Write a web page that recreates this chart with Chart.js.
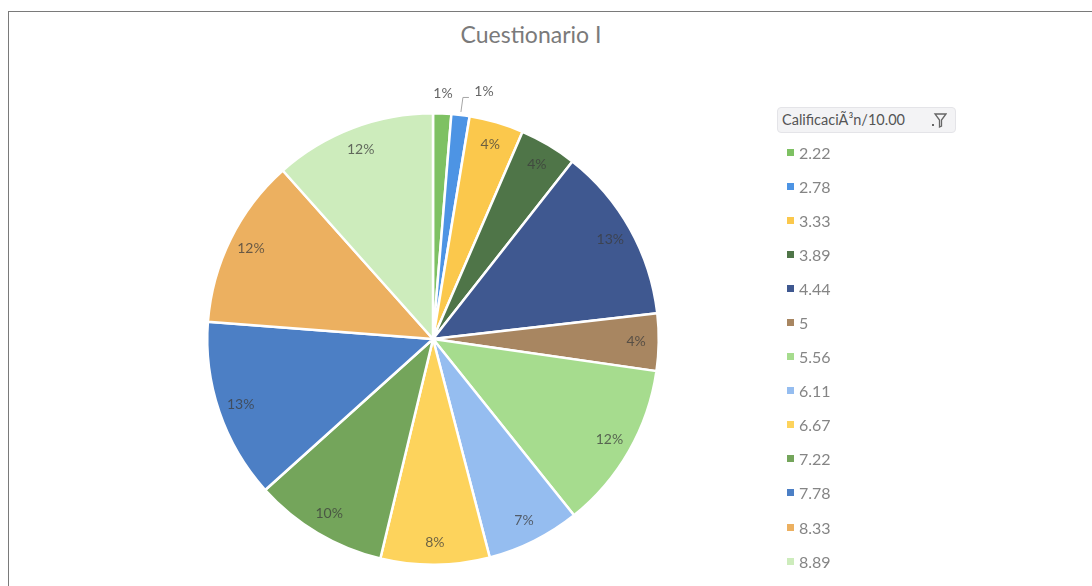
<!DOCTYPE html>
<html lang="es">
<head>
<meta charset="UTF-8">
<title>Cuestionario I</title>
<script src="https://cdn.jsdelivr.net/npm/chart.js"></script>
<style>
  body {
    margin: 0;
    width: 1092px;
    height: 586px;
    background: #fff;
    font-family: 'Lato', 'Open Sans', sans-serif;
    position: relative;
    overflow: hidden;
  }
  .frame {
    position: absolute;
    left: 8px;
    top: 11px;
    width: 1100px;
    height: 600px;
    border-top: 1.5px solid #7a7a7a;
    border-left: 1.5px solid #7a7a7a;
  }
  .title {
    position: absolute;
    left: 0;
    width: 1062px;
    top: 20px;
    text-align: center;
    font-size: 23px;
    color: #7a7a7a;
  }
  #wrap {
    position: absolute;
    left: 0;
    top: 0;
    width: 1092px;
    height: 586px;
  }
  .legend-head {
    position: absolute;
    left: 777px;
    top: 107px;
    width: 179px;
    height: 26px;
    background: #f3f3f5;
    border: 1px solid #e4e4e8;
    border-radius: 4px;
    box-sizing: border-box;
    font-size: 14.5px;
    color: #555;
    line-height: 24px;
    padding-left: 4px;
  }
  .legend-head svg {
    position: absolute;
    right: 8px;
    top: 5px;
  }
  #legend {
    position: absolute;
    left: 787px;
    top: 135px;
    margin: 0;
    padding: 0;
    list-style: none;
  }
  #legend li {
    height: 34.1px;
    display: flex;
    align-items: center;
    font-size: 16px;
    color: #858585;
  }
  #legend span {
    display: inline-block;
    width: 7px;
    height: 7px;
    margin-right: 5px;
  }
</style>
</head>
<body>
<div class="frame"></div>
<div class="title">Cuestionario I</div>
<div id="wrap"><canvas id="pie"></canvas></div>
<div class="legend-head">CalificaciÃ³n/10.00
  <svg width="16" height="16" viewBox="0 0 16 16">
    <rect x="1" y="11" width="2" height="2" fill="#666"/>
    <path d="M4 1 H15 L10.5 7 V13 L8.5 14 V7 Z" fill="none" stroke="#666" stroke-width="1.3"/>
  </svg>
</div>
<ul id="legend"></ul>

<script>
// calificaciones (legend categories) and share of answers
const grades = ['2.22', '2.78', '3.33', '3.89', '4.44', '5', '5.56', '6.11', '6.67', '7.22', '7.78', '8.33', '8.89'];
const shares = [1.3, 1.3, 3.9, 4.1, 12.6, 4.1, 12.0, 6.7, 7.8, 9.6, 12.9, 12.2, 11.6];
const sliceColors = ['#7ec163', '#4d94e4', '#fbc84c', '#4f7548', '#3f5890', '#a88661', '#a6dc8e',
                     '#95bdf0', '#fdd35c', '#74a55b', '#4c7fc5', '#ecb060', '#cdecbc'];

const total = shares.reduce((a, b) => a + b, 0);

// draws the percentage labels (small slices go outside, with a leader if they collide)
const pctLabels = {
  id: 'pctLabels',
  afterDatasetsDraw(chart) {
    const ctx = chart.ctx;
    const arcs = chart.getDatasetMeta(0).data;
    ctx.save();
    ctx.font = '14px Lato, "Open Sans", sans-serif';
    ctx.textAlign = 'center';
    ctx.textBaseline = 'middle';
    let lastOut = null;
    arcs.forEach((arc, i) => {
      const p = arc.getProps(['x', 'y', 'startAngle', 'endAngle', 'outerRadius']);
      const mid = (p.startAngle + p.endAngle) / 2;
      const pct = shares[i] / total * 100;
      const txt = Math.round(pct) + '%';
      if (pct < 2) {
        let lx = p.x + Math.cos(mid) * (p.outerRadius + 20);
        let ly = p.y + Math.sin(mid) * (p.outerRadius + 20);
        if (lastOut && Math.abs(lx - lastOut.x) < 30) {
          const ax = p.x + Math.cos(mid) * (p.outerRadius + 3);
          const ay = p.y + Math.sin(mid) * (p.outerRadius + 3);
          const ex = ax + 2, ey = lastOut.y + 4;
          ctx.strokeStyle = '#a6a6a6';
          ctx.lineWidth = 1;
          ctx.beginPath();
          ctx.moveTo(ax, ay);
          ctx.lineTo(ex, ey);
          ctx.lineTo(ex + 6, ey);
          ctx.stroke();
          lx = ex + 21;
          ly = ey - 6;
        }
        ctx.fillStyle = '#666';
        ctx.fillText(txt, lx, ly);
        lastOut = { x: lx, y: ly };
      } else {
        const r = p.outerRadius * 0.9;
        ctx.fillStyle = 'rgba(60,60,60,0.75)';
        ctx.fillText(txt, p.x + Math.cos(mid) * r, p.y + Math.sin(mid) * r);
      }
    });
    ctx.restore();
  }
};

const chart = new Chart(document.getElementById('pie'), {
  type: 'pie',
  data: {
    labels: grades,
    datasets: [{
      data: shares,
      backgroundColor: sliceColors,
      borderColor: '#ffffff',
      borderWidth: 2.5
    }]
  },
  options: {
    responsive: true,
    maintainAspectRatio: false,
    animation: false,
    layout: {
      padding: { left: 206, top: 112, right: 432, bottom: 20 }
    },
    plugins: {
      legend: { display: false },
      title: { display: false },
      tooltip: { enabled: false }
    }
  },
  plugins: [pctLabels]
});

// legend list built from the chart's own labels
const items = chart.options.plugins.legend.labels.generateLabels(chart);
document.getElementById('legend').innerHTML = items
  .map(it => `<li><span style="background:${it.fillStyle}"></span>${it.text}</li>`)
  .join('');
</script>
</body>
</html>
